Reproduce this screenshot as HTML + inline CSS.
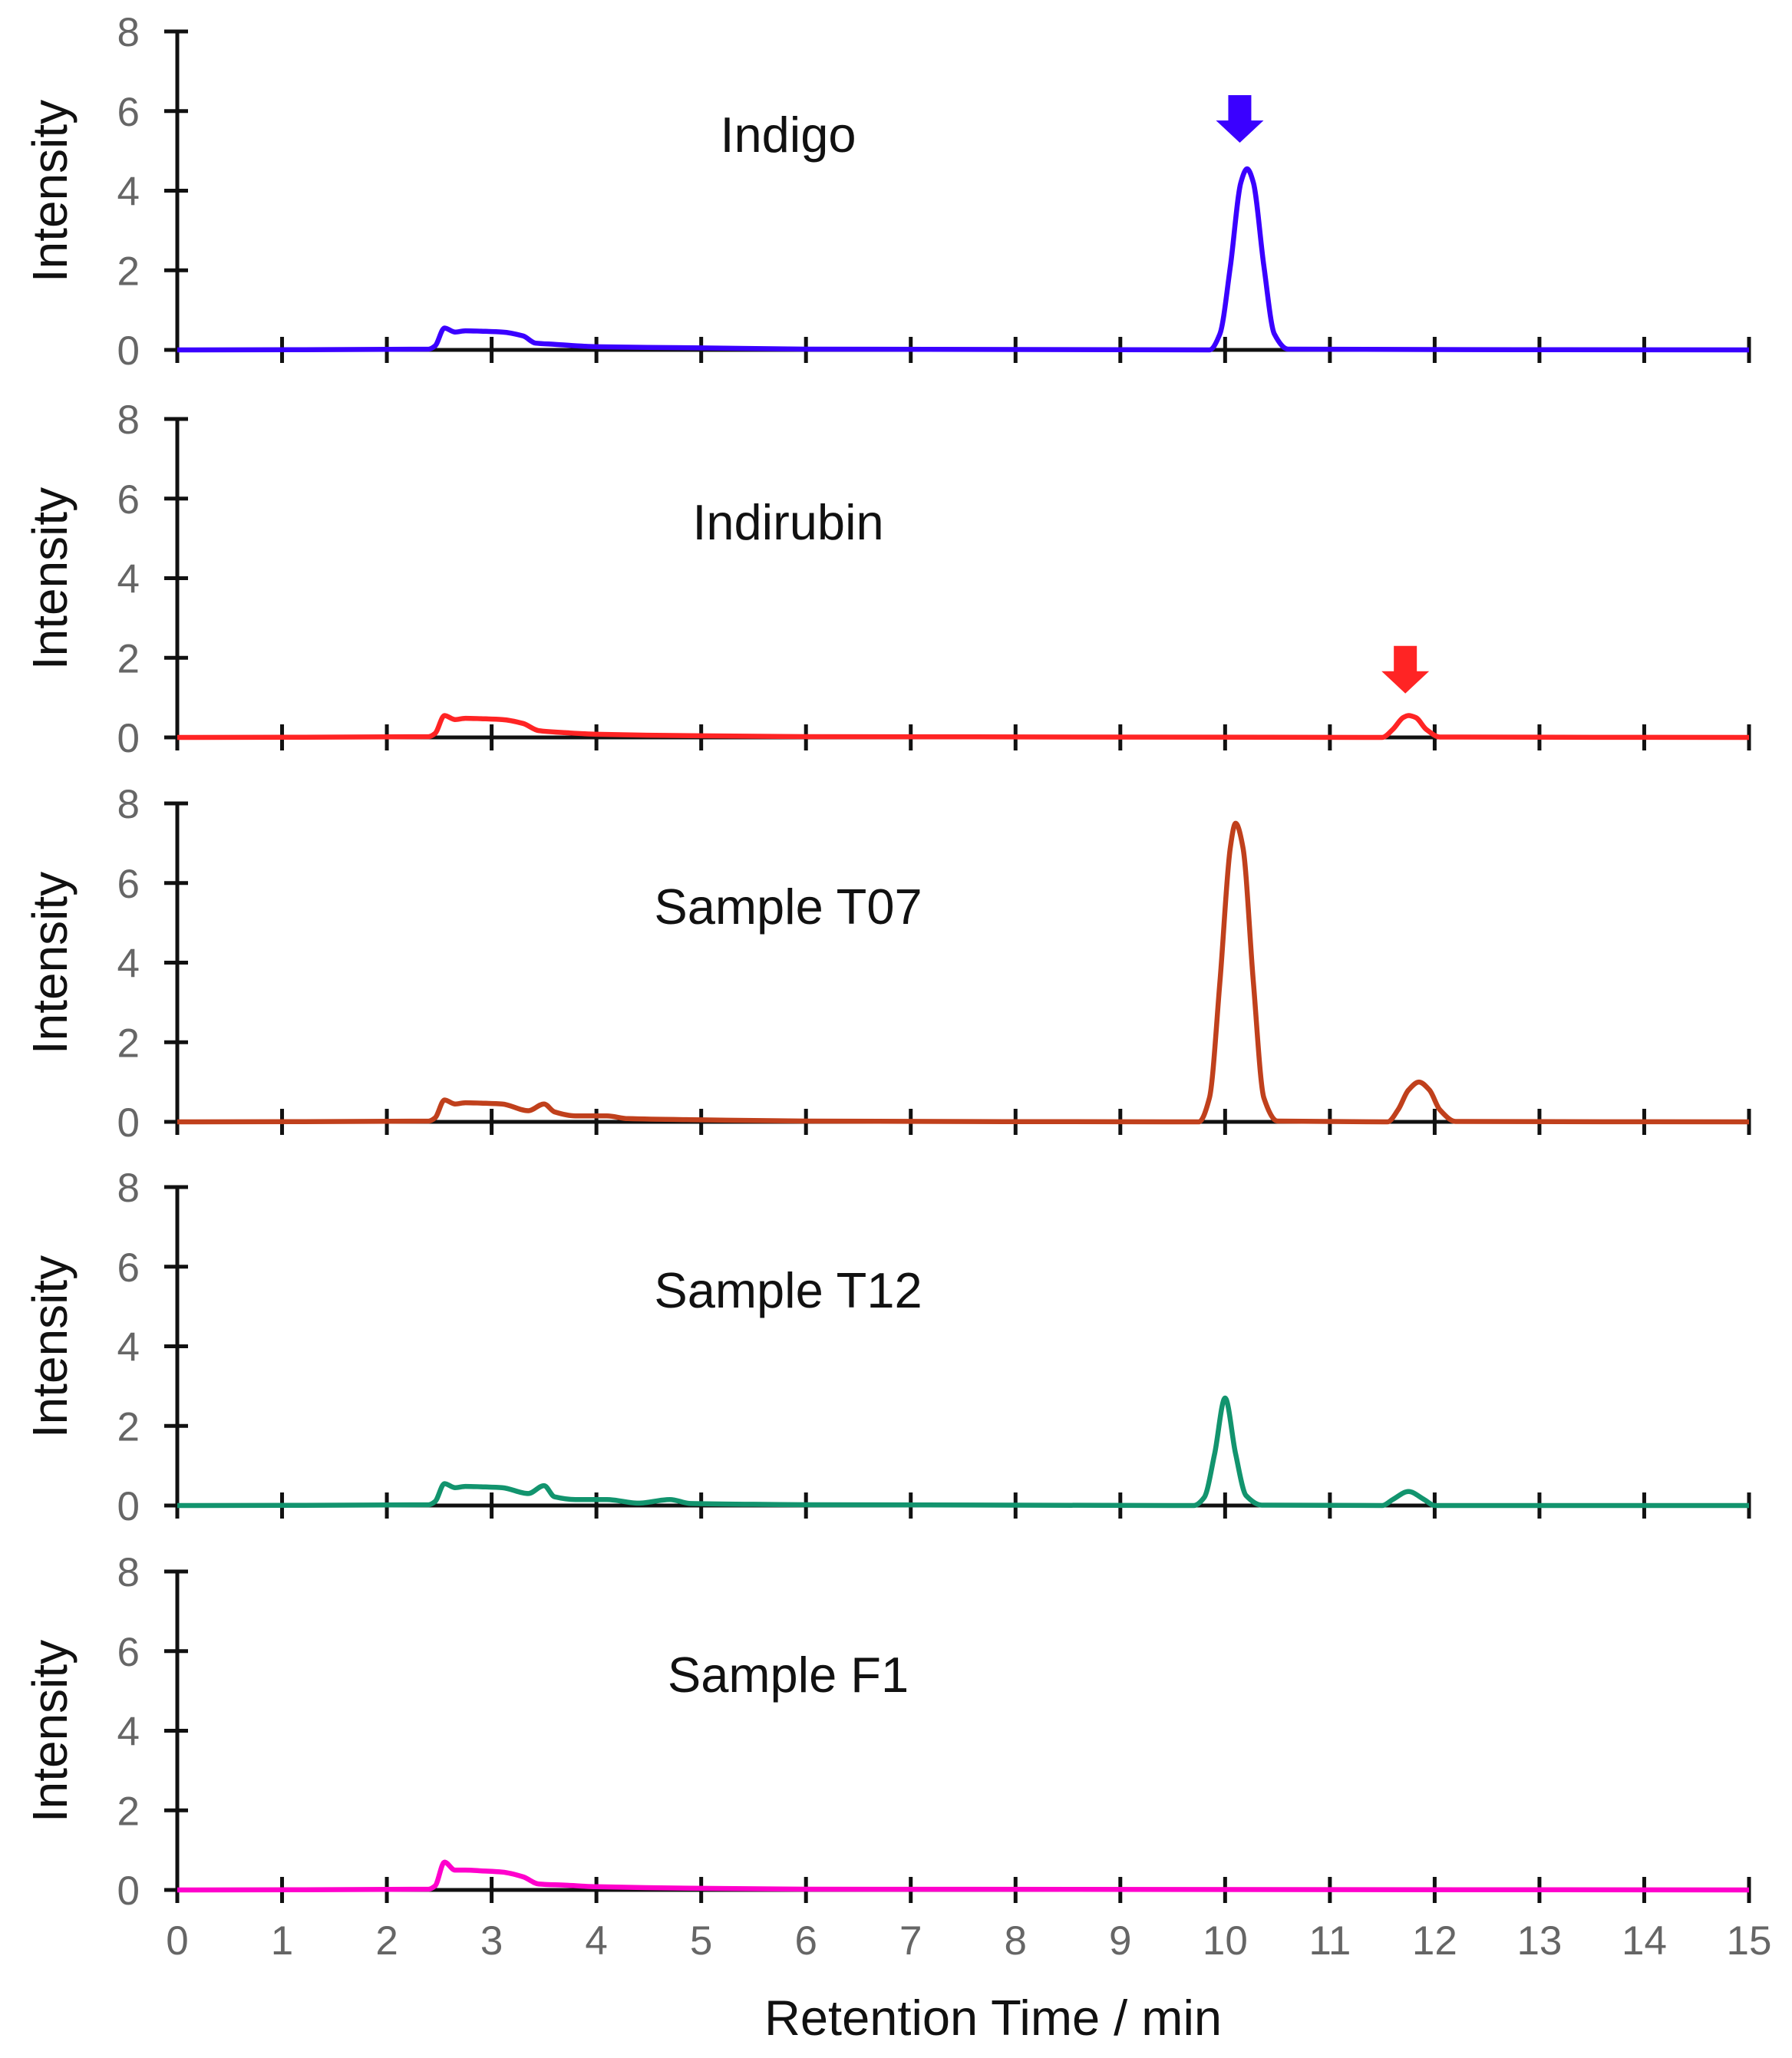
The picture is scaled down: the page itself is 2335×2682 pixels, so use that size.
<!DOCTYPE html>
<html><head><meta charset="utf-8"><style>
html,body{margin:0;padding:0;background:#fff}
svg{display:block}
text{font-family:"Liberation Sans",Arial,sans-serif}
</style></head><body>
<svg id="chart" width="2335" height="2682" viewBox="0 0 2335 2682" xmlns="http://www.w3.org/2000/svg">
<g id="root"></g>
<text x="1294" y="2652" font-size="65" text-anchor="middle" fill="#111">Retention Time / min</text>
</svg>
<script>
const xTicks = [0,1,2,3,4,5,6,7,8,9,10,11,12,13,14,15];
const yTicks = [0,2,4,6,8];
const panelNames = ["Indigo","Indirubin","Sample T07","Sample T12","Sample F1"];
const panelColors = ["#3a00ff","#ff2424","#c0401c","#12946e","#ff00cc"];
const tIndigo = [0,2.4,2.46,2.55,2.65,2.75,2.9,3.1,3.3,3.42,3.6,4,5,6,9.85,9.95,10.05,10.15,10.21,10.27,10.37,10.47,10.6,15];
const vIndigo = [0,0.02,0.1,0.55,0.45,0.48,0.47,0.45,0.35,0.17,0.14,0.08,0.05,0.02,0,0.4,2.1,4.2,4.55,4.2,2.1,0.4,0.02,0];
const tIndirubin = [0,2.4,2.46,2.55,2.65,2.75,2.9,3.1,3.3,3.45,3.7,4,5,6,11.5,11.6,11.7,11.75,11.82,11.92,12.05,15];
const vIndirubin = [0,0.02,0.1,0.55,0.45,0.48,0.47,0.45,0.35,0.17,0.12,0.08,0.04,0.02,0,0.2,0.5,0.55,0.5,0.2,0.01,0];
const tT07 = [0,2.4,2.46,2.55,2.65,2.75,2.9,3.1,3.35,3.5,3.6,3.8,4.1,4.3,5,6,9.75,9.85,9.95,10.05,10.1,10.17,10.27,10.37,10.5,11.55,11.65,11.75,11.85,11.95,12.05,12.2,15];
const vT07 = [0,0.02,0.1,0.55,0.45,0.48,0.47,0.45,0.28,0.45,0.25,0.15,0.15,0.08,0.05,0.02,0,0.6,3.5,6.9,7.5,6.9,3.5,0.6,0.02,0,0.3,0.8,1.0,0.8,0.3,0.01,0];
const tT12 = [0,2.4,2.46,2.55,2.65,2.75,2.9,3.1,3.35,3.5,3.6,3.8,4.1,4.4,4.7,4.9,5.5,6,9.7,9.8,9.9,10.0,10.1,10.2,10.35,11.5,11.6,11.75,11.9,12.0,15];
const vT12 = [0,0.02,0.1,0.55,0.45,0.48,0.47,0.45,0.3,0.5,0.22,0.15,0.15,0.06,0.15,0.05,0.03,0.02,0,0.2,1.3,2.7,1.3,0.25,0.01,0,0.15,0.35,0.15,0,0];
const tF1 = [0,2.4,2.46,2.55,2.65,2.75,2.9,3.1,3.3,3.45,3.7,4,5,6,15];
const vF1 = [0,0.02,0.1,0.7,0.5,0.5,0.48,0.45,0.33,0.15,0.12,0.08,0.04,0.02,0];
const seriesT = [tIndigo,tIndirubin,tT07,tT12,tF1];
const seriesV = [vIndigo,vIndirubin,vT07,vT12,vF1];
const arrowTimes = [10.14, 11.72, null, null, null];
const arrowTopValues = [6.4, 2.3, null, null, null];

const NS = "http://www.w3.org/2000/svg";
const root = document.getElementById('root');
const X0 = 231, XS = (2279-231)/15;
const panelBase = [456, 961, 1462, 1962, 2463];
const YS = 415/8;
function xPos(t){ return X0 + t*XS; }
function mk(tag, attrs, parent){ const e=document.createElementNS(NS,tag); for(const k in attrs) e.setAttribute(k,attrs[k]); (parent||root).appendChild(e); return e; }
function monoPath(pts){
  const n=pts.length, d=[], m=[];
  for(let i=0;i<n-1;i++) d.push((pts[i+1][1]-pts[i][1])/(pts[i+1][0]-pts[i][0]));
  for(let i=0;i<n;i++){
    if(i===0) m.push(0); else if(i===n-1) m.push(0);
    else if(d[i-1]*d[i]<=0) m.push(0);
    else m.push(2/(1/d[i-1]+1/d[i]));
  }
  let s="M"+pts[0][0].toFixed(1)+","+pts[0][1].toFixed(1);
  for(let i=0;i<n-1;i++){
    const h=(pts[i+1][0]-pts[i][0])/3;
    s+=" C"+(pts[i][0]+h).toFixed(1)+","+(pts[i][1]+m[i]*h).toFixed(1)+" "+(pts[i+1][0]-h).toFixed(1)+","+(pts[i+1][1]-m[i+1]*h).toFixed(1)+" "+pts[i+1][0].toFixed(1)+","+pts[i+1][1].toFixed(1);
  }
  return s;
}
panelNames.forEach((name,i)=>{
  const base = panelBase[i];
  const yPos = v => base - v*YS;
  const g = mk('g',{});
  
  
  const ya = mk('line',{x1:X0,y1:yPos(8),x2:X0,y2:base+17,stroke:'#111','stroke-width':5},g);
  
  
  const xa = mk('line',{x1:X0-2,y1:base,x2:xPos(15)+2,y2:base,stroke:'#111','stroke-width':5},g);
  
  
  yTicks.forEach(v=>{
    const tk = mk('line',{x1:X0-17,y1:yPos(v),x2:X0+14,y2:yPos(v),stroke:'#111','stroke-width':5},g);
    
    
    const tl = mk('text',{x:182,y:yPos(v)+19,'font-size':53,'text-anchor':'end',fill:'#666'},g);
    tl.textContent = v;
    
    
  });
  xTicks.forEach(t=>{
    if(t===0) return;
    const tk = mk('line',{x1:xPos(t),y1:base-17,x2:xPos(t),y2:base+17,stroke:'#111','stroke-width':5},g);
    
    
  });
  const yl = mk('text',{x:0,y:0,'font-size':64,'text-anchor':'middle',fill:'#111',transform:'translate(87,'+(base-207)+') rotate(-90)'},g);
  yl.textContent = 'Intensity';
  
  
  const tt = mk('text',{x:1027,y:base-258,'font-size':65,'text-anchor':'middle',fill:'#111'},g);
  tt.textContent = name;
  
  
  const pts = seriesT[i].map((t,k)=>[xPos(t), yPos(seriesV[i][k])]);
  const ln = mk('path',{d:monoPath(pts),fill:'none',stroke:panelColors[i],'stroke-width':6.5,'stroke-linejoin':'round'},g);
  
  
  const at = arrowTimes[i];
  if(at!==null){
    const cx = xPos(at), top = yPos(arrowTopValues[i]);
    const ar = mk('polygon',{points:[[cx-15,top],[cx+15,top],[cx+15,top+33],[cx+31,top+33],[cx,top+62],[cx-31,top+33],[cx-15,top+33]].map(p=>p.join(',')).join(' '),fill:panelColors[i]},g);
    
    
  }
});
xTicks.forEach(t=>{
  const tl = mk('text',{x:xPos(t),y:2547,'font-size':53,'text-anchor':'middle',fill:'#666'});
  tl.textContent = t;
  
  
});
</script>
</body></html>
